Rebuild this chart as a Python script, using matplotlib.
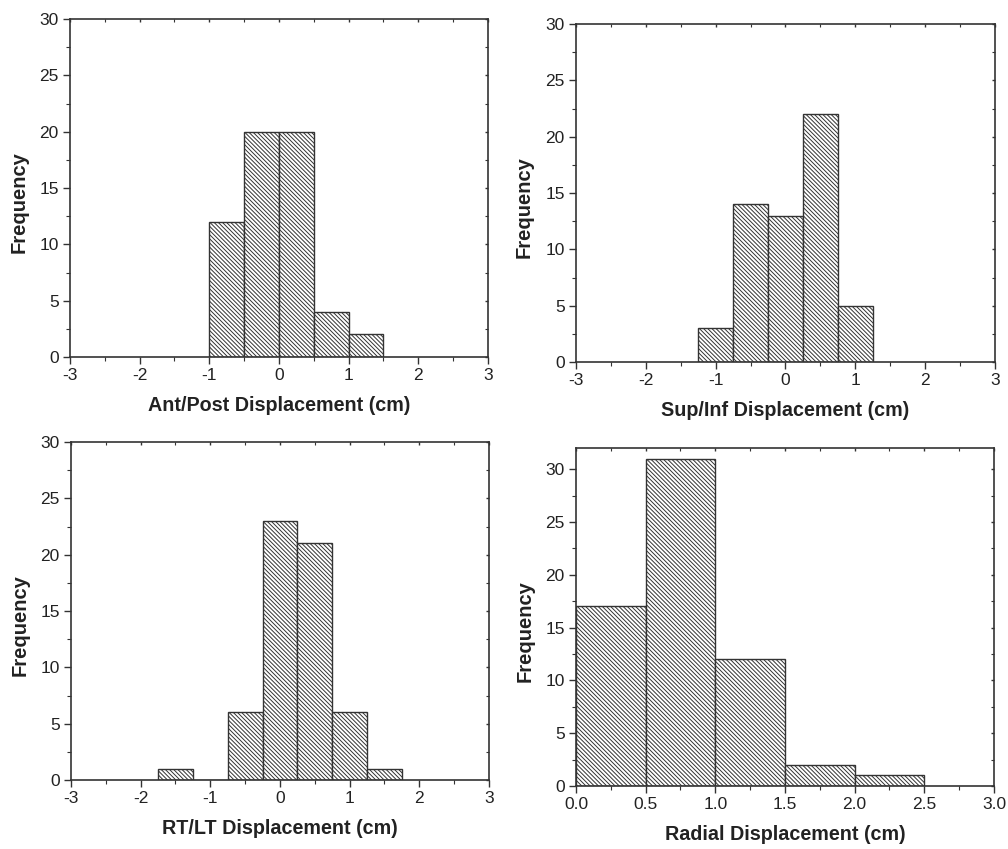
#!/usr/bin/env python3
"""Four hatched histograms of displacement frequencies."""

import matplotlib
matplotlib.use("Agg")
import matplotlib.pyplot as plt
from matplotlib.ticker import MultipleLocator, FormatStrFormatter

plt.rcParams["font.family"] = ["Liberation Sans", "DejaVu Sans"]
plt.rcParams["axes.unicode_minus"] = False
plt.rcParams["hatch.linewidth"] = 0.7
plt.rcParams["hatch.color"] = "#222222"

# bin left edges and counts per panel
ap_edges = [-1.0, -0.5, 0.0, 0.5, 1.0]
ap_counts = [12, 20, 20, 4, 2]

si_edges = [-1.25, -0.75, -0.25, 0.25, 0.75]
si_counts = [3, 14, 13, 22, 5]

rl_edges = [-1.75, -1.25, -0.75, -0.25, 0.25, 0.75, 1.25]
rl_counts = [1, 0, 6, 23, 21, 6, 1]

rad_edges = [0.0, 0.5, 1.0, 1.5, 2.0]
rad_counts = [17, 31, 12, 2, 1]

bin_width = 0.5

panels = [
    (ap_edges, ap_counts, "Ant/Post Displacement (cm)", [0.0694, 0.5795, 0.4147, 0.398], (-3, 3), (0, 30)),
    (si_edges, si_counts, "Sup/Inf Displacement (cm)", [0.5714, 0.5736, 0.4157, 0.398], (-3, 3), (0, 30)),
    (rl_edges, rl_counts, "RT/LT Displacement (cm)", [0.0704, 0.0813, 0.4147, 0.398], (-3, 3), (0, 30)),
    (rad_edges, rad_counts, "Radial Displacement (cm)", [0.5714, 0.0742, 0.4147, 0.398], (0, 3), (0, 32)),
]

fig = plt.figure(figsize=(10.08, 8.49), dpi=100)
edge = "#333333"

for edges, counts, xlabel, rect, xlim, ylim in panels:
    ax = fig.add_axes(rect)
    ax.bar(edges, counts, width=bin_width, align="edge", color="white",
           edgecolor=edge, linewidth=1.0, hatch="\\" * 8)
    ax.set_xlim(*xlim)
    ax.set_ylim(*ylim)
    ax.yaxis.set_major_locator(MultipleLocator(5))
    ax.yaxis.set_minor_locator(MultipleLocator(2.5))
    if xlim[0] == 0:
        ax.xaxis.set_major_locator(MultipleLocator(0.5))
        ax.xaxis.set_minor_locator(MultipleLocator(0.25))
        ax.xaxis.set_major_formatter(FormatStrFormatter("%.1f"))
    else:
        ax.xaxis.set_major_locator(MultipleLocator(1))
        ax.xaxis.set_minor_locator(MultipleLocator(0.5))
    for s in ax.spines.values():
        s.set_color(edge)
        s.set_linewidth(1.2)
    ax.tick_params(which="major", direction="out", length=5, width=1.0,
                   color=edge, labelsize=12.5, labelcolor="#222222", pad=3)
    ax.tick_params(which="minor", direction="out", length=3, width=0.8, color=edge)
    # short inward ticks on the top and right frame
    ax.tick_params(which="both", top=True, right=True)
    for t in ax.xaxis.get_major_ticks() + ax.xaxis.get_minor_ticks():
        t.tick2line.set_marker(3)
        t.tick2line.set_markersize(2)
        t.tick2line.set_color("#888888")
    for t in ax.yaxis.get_major_ticks() + ax.yaxis.get_minor_ticks():
        t.tick2line.set_marker(0)
        t.tick2line.set_markersize(2)
        t.tick2line.set_color("#888888")
    ax.set_xlabel(xlabel, fontsize=14.2, fontweight="bold", labelpad=9, color="#222222")
    ax.set_ylabel("Frequency", fontsize=14.5, fontweight="bold", color="#222222")
    ax.yaxis.set_label_coords(-0.1, 0.459)

fig.savefig("out.png", dpi=100)
